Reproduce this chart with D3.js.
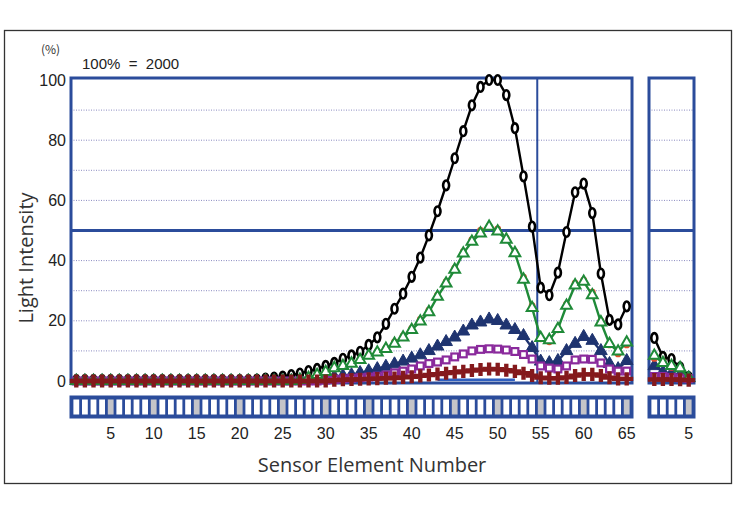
<!DOCTYPE html>
<html>
<head>
<meta charset="utf-8">
<script src="https://cdn.jsdelivr.net/npm/d3@7"></script>
<style>
  body { margin: 0; background: #fff; }
  svg { display: block; }
</style>
</head>
<body>
<div id="chart"></div>
<script>
// element numbers 1..65 on the main sensor, 1..5 on the small one
const elements = d3.range(1, 66);
const subElements = [1, 2, 3, 4, 5];

const xTicks = [5, 10, 15, 20, 25, 30, 35, 40, 45, 50, 55, 60, 65];
const subTicks = [5];
const yTicks = [0, 20, 40, 60, 80, 100];
const gridValues = [10, 20, 30, 40, 60, 70, 80, 90];

const black = [
  0.3, 0.3, 0.3, 0.3, 0.3, 0.3, 0.3, 0.3, 0.3, 0.3,
  0.3, 0.3, 0.3, 0.3, 0.3, 0.3, 0.3, 0.3, 0.3, 0.3,
  0.3, 0.5, 0.8, 1.1, 1.5, 2, 2.5, 3.3, 4, 5,
  6, 7.4, 8.5, 9.7, 12, 14.5, 19, 24, 29, 34.6,
  41, 48.4, 56.4, 65, 74, 83, 91.6, 97.7, 100, 100,
  95, 84, 68, 51.3, 31, 28.5, 36, 49.5, 62.7, 65.6,
  55.8, 35.7, 20.3, 18.8, 24.8
];
const red = [
  0, 0, 0, 0, 0, 0, 0, 0, 0, 0,
  0, 0, 0, 0, 0, 0, 0, 0, 0, 0,
  0, 0, 0, 0, 0, 0, 0.4, 1, 2, 3.2,
  4, 5.2, 6, 7.3, 8.6, 9.8, 11, 13, 15, 17.5,
  20.5, 23.5, 28.5, 33, 37.5, 43, 47, 50, 51.5, 50.5,
  47.5, 43, 34.5, 25, 14, 13, 17, 25.5, 32.5, 33.5,
  29.5, 20, 12, 9, 12
];
const green = [
  0, 0, 0, 0, 0, 0, 0, 0, 0, 0,
  0, 0, 0, 0, 0, 0, 0, 0, 0, 0,
  0, 0, 0, 0, 0, 0, 0.4, 1, 2, 3,
  4.3, 5, 5.8, 7, 8.4, 9.5, 10.7, 12.4, 14.5, 17,
  19.8, 22.9, 28, 32.4, 37, 42.4, 46.3, 49, 51.3, 49.7,
  47, 42.5, 33.7, 24.3, 14.3, 13.6, 17.3, 25, 31.8, 33,
  28.5, 19.5, 12.3, 9.8, 12.8
];
const navy = [
  0, 0, 0, 0, 0, 0, 0, 0, 0, 0,
  0, 0, 0, 0, 0, 0, 0, 0, 0, 0,
  0, 0, 0, 0, 0, 0, 0.2, 0.5, 0.8, 1.1,
  1.4, 1.7, 2, 2.7, 3.3, 4, 4.8, 5.6, 6.5, 7.5,
  8.6, 10, 11.5, 13, 14.5, 16.5, 18.5, 19.5, 20.5, 20,
  18.5, 17, 15, 11, 6.5, 6, 6.7, 10, 12.4, 14.7,
  13.4, 10, 5.7, 4, 6.7
];
const purple = [
  0, 0, 0, 0, 0, 0, 0, 0, 0, 0,
  0, 0, 0, 0, 0, 0, 0, 0, 0, 0,
  0, 0, 0, 0, 0, 0, 0, 0, 0, 0.3,
  0.5, 0.7, 0.9, 1.1, 1.3, 1.6, 2, 2.7, 3.3, 4,
  5, 5.8, 6.3, 7, 8, 9, 10, 10.5, 10.7, 10.6,
  10.3, 9.8, 8.8, 7.3, 5, 4.3, 4, 5, 7, 7.3,
  7.2, 6, 4, 3.3, 3.3
];
const blue = [
  null, null, null, null, null, null, null, null, null, null,
  null, null, null, null, null, null, null, null, null, null,
  null, null, null, null, null, null, null, null, null, null,
  null, null, null, null, null, null, null, null, null, null,
  null, null, 0.4, 0.4, 0.4, 0.4, 0.4, 0.4, 0.4, 0.4,
  0.4, 0.4, null, null, null, null, null, null, null, null,
  null, null, null, null, null
];
const maroon = [
  0, 0, 0, 0, 0, 0, 0, 0, 0, 0,
  0, 0, 0, 0, 0, 0, 0, 0, 0, 0,
  0, 0, 0, 0, 0, 0, 0, 0, 0, 0,
  0.3, 0.4, 0.5, 0.6, 0.7, 0.8, 0.9, 1, 1.2, 1.4,
  1.7, 2, 2.3, 2.6, 2.9, 3.2, 3.5, 3.8, 4, 3.9,
  3.6, 3.2, 2.6, 1.8, 1.1, 0.9, 0.9, 1.2, 1.8, 2.2,
  2.2, 1.8, 1.1, 0.7, 0.7
];

const blackSub = [14.3, 8, 7.3, 4.5, 1.3];
const redSub = [7.5, 6.5, 4.5, 4, 1.2];
const greenSub = [8.4, 6, 5, 4.3, 1];
const navySub = [5, 3, 2.5, 2, 1];
const purpleSub = [1.5, 1.5, 1.2, 1, 0.8];
const maroonSub = [0.5, 0.5, 0.5, 0.4, 0.3];

const width = 736;
const height = 516;
const frameBlue = "#2b4c9b";

const svg = d3.select("#chart")
  .append("svg")
  .attr("width", width)
  .attr("height", height);

// outer border
svg.append("rect")
  .attr("x", 4.5).attr("y", 30.5)
  .attr("width", 727).attr("height", 453)
  .attr("fill", "none")
  .attr("stroke", "#333")
  .attr("stroke-width", 1.3);

const x = d3.scaleLinear().domain([0.5, 65.5]).range([72, 631]);
const xs = d3.scaleLinear().domain([0.5, 5.5]).range([650, 693]);
const y = d3.scaleLinear().domain([0, 100]).range([381, 80]);

const panels = [
  { scale: x, items: elements, ticks: xTicks, last: 65 },
  { scale: xs, items: subElements, ticks: subTicks, last: 5 }
];

const frameTop = y(100) - 2;
const frameBottom = y(0) + 2;

panels.forEach(p => {
  const x0 = p.scale(0.5) - 1;
  const x1 = p.scale(p.last + 0.5) + 1;

  svg.append("g")
    .selectAll("line")
    .data(gridValues)
    .join("line")
    .attr("x1", x0).attr("x2", x1)
    .attr("y1", d => y(d)).attr("y2", d => y(d))
    .attr("stroke", "#8a8ac0")
    .attr("stroke-width", 1)
    .attr("stroke-dasharray", "1,1.5");

  svg.append("line")
    .attr("x1", x0).attr("x2", x1)
    .attr("y1", y(50)).attr("y2", y(50))
    .attr("stroke", frameBlue)
    .attr("stroke-width", 3);

  svg.append("rect")
    .attr("x", x0).attr("y", frameTop)
    .attr("width", x1 - x0).attr("height", frameBottom - frameTop)
    .attr("fill", "none")
    .attr("stroke", frameBlue)
    .attr("stroke-width", 3);

  // sensor element strip
  const strip = svg.append("g");
  strip.append("rect")
    .attr("x", x0).attr("y", 397)
    .attr("width", x1 - x0).attr("height", 20)
    .attr("fill", frameBlue)
    .attr("stroke", frameBlue)
    .attr("stroke-width", 3);
  strip.selectAll(".cell")
    .data(p.items)
    .join("rect")
    .attr("class", "cell")
    .attr("x", d => p.scale(d - 0.5) + 1.4)
    .attr("y", 399.5)
    .attr("width", d => p.scale(d + 0.5) - p.scale(d - 0.5) - 2.8)
    .attr("height", 15)
    .attr("fill", d => d % 5 === 0 ? "#c4c4c8" : "#fff");

  svg.append("g")
    .selectAll("text")
    .data(p.ticks)
    .join("text")
    .attr("x", d => p.scale(d))
    .attr("y", 439)
    .attr("text-anchor", "middle")
    .attr("font-family", "Liberation Sans, Arial, sans-serif")
    .attr("font-size", 16)
    .attr("fill", "#222")
    .text(d => d);
});

// divider between element 54 and 55
svg.append("line")
  .attr("x1", x(54.6)).attr("x2", x(54.6))
  .attr("y1", frameTop).attr("y2", frameBottom)
  .attr("stroke", frameBlue)
  .attr("stroke-width", 2);

// y tick labels
svg.append("g")
  .selectAll("text")
  .data(yTicks)
  .join("text")
  .attr("x", 66)
  .attr("y", d => y(d) + 5.5)
  .attr("text-anchor", "end")
  .attr("font-family", "Liberation Sans, Arial, sans-serif")
  .attr("font-size", 16)
  .attr("fill", "#222")
  .text(d => d);

svg.append("text")
  .attr("x", 41).attr("y", 54)
  .attr("font-family", "Noto Sans CJK JP, sans-serif")
  .attr("font-size", 12)
  .attr("fill", "#333")
  .text("(%)");

svg.append("text")
  .attr("x", 82).attr("y", 69)
  .attr("font-family", "Liberation Sans, Arial, sans-serif")
  .attr("font-size", 15)
  .attr("fill", "#222")
  .attr("xml:space", "preserve")
  .text("100%  =  2000");

svg.append("text")
  .attr("transform", "translate(33,258) rotate(-90)")
  .attr("text-anchor", "middle")
  .attr("font-family", "Open Sans, sans-serif")
  .attr("font-size", 20)
  .attr("fill", "#333")
  .text("Light Intensity");

svg.append("text")
  .attr("x", 372).attr("y", 472)
  .attr("text-anchor", "middle")
  .attr("font-family", "Open Sans, sans-serif")
  .attr("font-size", 20)
  .attr("fill", "#333")
  .text("Sensor Element Number");

// series
const series = [
  { main: black, sub: blackSub, color: "#000", marker: "ellipse" },
  { main: navy, sub: navySub, color: "#1f3470", marker: "triFill" },
  { main: purple, sub: purpleSub, color: "#8a2a9c", marker: "square" },
  { main: red, sub: redSub, color: "#e5502e", marker: "dot", noLine: true },
  { main: green, sub: greenSub, color: "#1f8a38", marker: "triOpen" },
  { main: blue, sub: null, color: "#2f5fc0", marker: null },
  { main: maroon, sub: maroonSub, color: "#84191c", marker: "cross" }
];

function drawSeries(s, values, scale, items) {
  const pts = items.map((d, i) => ({ n: d, v: values[i] }));
  const g = svg.append("g");
  const line = d3.line()
    .defined(d => d.v !== null)
    .x(d => scale(d.n))
    .y(d => y(d.v));

  if (!s.noLine) {
    g.append("path")
      .datum(pts)
      .attr("d", line)
      .attr("fill", "none")
      .attr("stroke", s.color)
      .attr("stroke-width", s.marker === "cross" ? 3 : 2.4);
  }

  const marks = g.selectAll(".m")
    .data(pts.filter(d => d.v !== null))
    .join("g")
    .attr("transform", d => `translate(${scale(d.n)},${y(d.v)})`);

  if (s.marker === "ellipse") {
    marks.append("ellipse")
      .attr("rx", 3).attr("ry", 4.8)
      .attr("fill", "#fff")
      .attr("stroke", s.color)
      .attr("stroke-width", 2.6);
  } else if (s.marker === "triOpen" || s.marker === "triFill") {
    const open = s.marker === "triOpen";
    marks.append("path")
      .attr("d", d3.symbol().type(d3.symbolTriangle).size(open ? 50 : 70)())
      .attr("fill", open ? "#fff" : s.color)
      .attr("stroke", s.color)
      .attr("stroke-width", open ? 2 : 1);
  } else if (s.marker === "square") {
    marks.append("rect")
      .attr("x", -3.4).attr("y", -3.4)
      .attr("width", 6.8).attr("height", 6.8)
      .attr("fill", "#fff")
      .attr("stroke", s.color)
      .attr("stroke-width", 2.2);
  } else if (s.marker === "dot") {
    marks.append("circle")
      .attr("r", 3.4)
      .attr("fill", s.color);
  } else if (s.marker === "cross") {
    marks.append("path")
      .attr("d", d3.symbol().type(d3.symbolCross).size(95)())
      .attr("fill", s.color);
  }
}

series.forEach(s => {
  drawSeries(s, s.main, x, elements);
  if (s.sub) drawSeries(s, s.sub, xs, subElements);
});
</script>
</body>
</html>
